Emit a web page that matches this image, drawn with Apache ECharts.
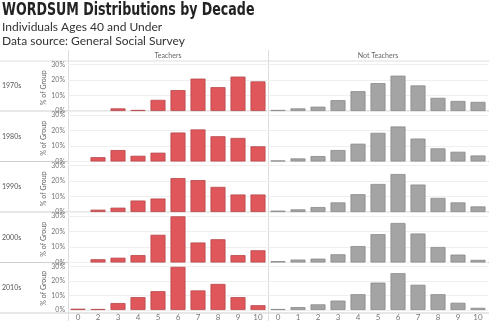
<!DOCTYPE html>
<html><head><meta charset="utf-8">
<script src="https://cdn.jsdelivr.net/npm/echarts@6/dist/echarts.min.js"></script>
<style>html,body{margin:0;padding:0;background:#fff}#c{width:489px;height:321px}</style>
</head><body><div id="c"></div>
<script>
const decades = ['1970s','1980s','1990s','2000s','2010s'];
const teacherScores = ['0','2','3','4','5','6','7','8','9','10'];
const otherScores = ['0','1','2','3','4','5','6','7','8','9','10'];
const yTicks = [0,10,20,30];
const teachers1970 = [null, null, 1.7, 0.7, 7.2, 13.5, 20.9, 15.4, 22.2, 19.1];
const teachers1980 = [null, 2.8, 7.4, 3.7, 5.7, 18.7, 20.7, 16.3, 15.2, 9.8];
const teachers1990 = [null, 1.5, 2.8, 7.4, 8.7, 21.9, 20.6, 16.2, 11.3, 11.3];
const teachers2000 = [null, 2.1, 3.1, 4.8, 17.9, 29.8, 12.9, 15.0, 4.8, 7.9];
const teachers2010 = [0.9, 0.7, 4.8, 8.9, 13.0, 29.8, 13.5, 18.0, 8.9, 3.3];
const others1970 = [0.7, 1.7, 2.8, 7.0, 12.8, 18.0, 22.8, 16.5, 8.5, 6.5, 5.9];
const others1980 = [0.7, 2.0, 3.5, 7.4, 11.5, 18.5, 22.6, 14.8, 8.5, 6.3, 3.9];
const others1990 = [0.9, 1.7, 3.2, 6.2, 11.5, 18.1, 24.5, 17.7, 9.1, 6.2, 3.6];
const others2000 = [0.9, 1.9, 2.5, 5.3, 10.6, 18.3, 25.5, 18.7, 10.0, 5.1, 1.7];
const others2010 = [0.7, 2.0, 3.9, 6.5, 10.9, 18.9, 25.4, 17.4, 10.9, 5.0, 1.5];
const teacherRows = [teachers1970, teachers1980, teachers1990, teachers2000, teachers2010];
const otherRows = [others1970, others1980, others1990, others2000, others2010];

const rowBottoms = [111, 161.5, 212, 262.5, 313];
const paneH = 46.5;
const cols = [{left: 68, width: 200}, {left: 268, width: 220}];
const labelFont = 'Lato, "Noto Sans", sans-serif';

const grid = [], xAxis = [], yAxis = [], series = [];
let gi = 0;
for (let r = 0; r < 5; r++) {
  for (let c = 0; c < 2; c++) {
    grid.push({left: cols[c].left, width: cols[c].width, top: rowBottoms[r] - paneH, height: paneH, containLabel: false});
    xAxis.push({
      type: 'category', gridIndex: gi, data: c === 0 ? teacherScores : otherScores,
      axisLine: {show: false}, axisTick: {show: false},
      axisLabel: {show: r === 4, color: '#777', fontSize: 8, fontFamily: labelFont, margin: 3}
    });
    yAxis.push({
      type: 'value', gridIndex: gi, min: yTicks[0], max: yTicks[yTicks.length-1], interval: 10,
      axisLine: {show: false}, axisTick: {show: false},
      splitLine: {show: true, lineStyle: {color: '#efefef', width: 1}},
      axisLabel: {show: c === 0, color: '#777', fontSize: 7, fontFamily: labelFont, margin: 3,
        formatter: v => v + '%'},
      name: c === 0 ? '% of Group' : '', nameLocation: 'middle', nameGap: 13, nameRotate: 90,
      nameTextStyle: {color: '#666', fontSize: 7, fontFamily: labelFont}
    });
    const data = c === 0 ? teacherRows[r] : otherRows[r];
    series.push({
      type: 'bar', xAxisIndex: gi, yAxisIndex: gi, data: data, barWidth: 15,
      itemStyle: c === 0 ? {color: '#e0575b', borderColor: '#b6474b', borderWidth: 0.8}
                         : {color: '#a4a4a4', borderColor: '#8a8a8a', borderWidth: 0.8},
      silent: true, animation: false
    });
    gi++;
  }
}

const graphic = [];
graphic.push({type: 'text', left: 2, top: 1, scaleX: 0.78, style: {text: 'WORDSUM Distributions by Decade', fill: '#222',
  font: 'bold 18px "DejaVu Sans Condensed", "DejaVu Sans", sans-serif'}});
graphic.push({type: 'text', left: 2, top: 21, style: {text: 'Individuals Ages 40 and Under', fill: '#333',
  font: '12px ' + labelFont}});
graphic.push({type: 'text', left: 2, top: 35, style: {text: 'Data source: General Social Survey', fill: '#333',
  font: '12px ' + labelFont}});
graphic.push({type: 'text', x: 168, y: 56, style: {text: 'Teachers', fill: '#666', font: '7px ' + labelFont, align: 'center', verticalAlign: 'middle'}});
graphic.push({type: 'text', x: 378, y: 56, style: {text: 'Not Teachers', fill: '#666', font: '7px ' + labelFont, align: 'center', verticalAlign: 'middle'}});
graphic.push({type: 'line', shape: {x1: 0, y1: 61, x2: 489, y2: 61}, style: {stroke: '#ddd', lineWidth: 1}});
rowBottoms.forEach((b, i) => {
  graphic.push({type: 'line', shape: {x1: 0, y1: b, x2: 489, y2: b}, style: {stroke: '#cfcfcf', lineWidth: 1}});
  graphic.push({type: 'text', x: 2, y: b - 25, style: {text: decades[i], fill: '#555', font: '7px ' + labelFont, verticalAlign: 'middle'}});
});
graphic.push({type: 'line', shape: {x1: 68.5, y1: 50, x2: 68.5, y2: 321}, style: {stroke: '#ddd', lineWidth: 1}});
graphic.push({type: 'line', shape: {x1: 268.5, y1: 50, x2: 268.5, y2: 321}, style: {stroke: '#ddd', lineWidth: 1}});

const chart = echarts.init(document.getElementById('c'), null, {renderer: 'canvas'});
chart.setOption({animation: false, grid, xAxis, yAxis, series, graphic});
</script></body></html>
